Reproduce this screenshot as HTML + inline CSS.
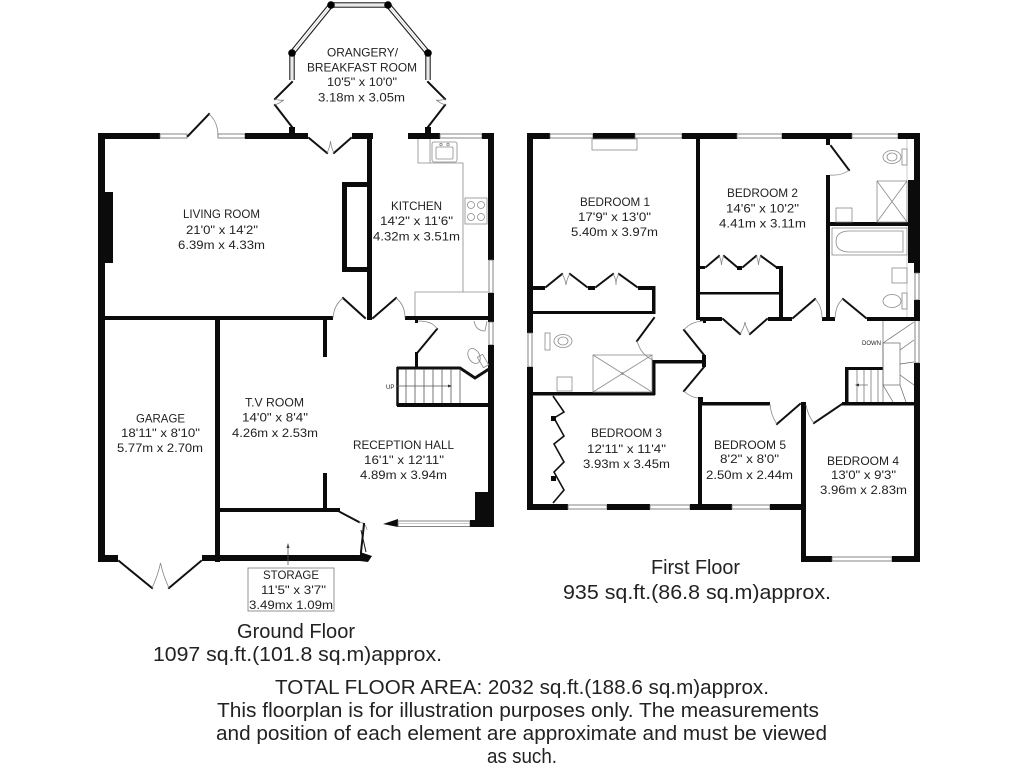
<!DOCTYPE html>
<html><head><meta charset="utf-8">
<style>
html,body{margin:0;padding:0;background:#fff;}
svg{display:block;}
text{font-family:"Liberation Sans",Arial,sans-serif;fill:#222;}
.w{fill:#0b0b0b;}
.win{fill:#fff;stroke:#666;stroke-width:0.8;}
.d{stroke:#111;stroke-width:2;fill:none;stroke-linecap:square;}
.a{stroke:#888;stroke-width:0.8;fill:none;}
.f{stroke:#8a8a8a;stroke-width:0.8;fill:none;}
.r{font-size:12px;}
.b{font-size:20.5px;}
</style></head><body>
<svg width="1024" height="768" viewBox="0 0 1024 768" xmlns="http://www.w3.org/2000/svg">
<rect width="1024" height="768" fill="#fff"/>

<!-- ================= GROUND FLOOR ================= -->
<!-- Orangery glazing -->
<polyline points="292,80 292,53 331,5 388,5 428,53 428,80" fill="none" stroke="#222" stroke-width="5.5" stroke-linejoin="miter"/>
<polyline points="292,80 292,53 331,5 388,5 428,53 428,80" fill="none" stroke="#fff" stroke-width="3.2" stroke-linejoin="miter"/>
<polyline points="292,80 292,53 331,5 388,5 428,53 428,80" fill="none" stroke="#aaa" stroke-width="0.5"/>
<circle cx="331" cy="5" r="3.8" fill="#000"/>
<circle cx="388" cy="5" r="3.8" fill="#000"/>
<circle cx="292" cy="53" r="3.8" fill="#000"/>
<circle cx="428" cy="53" r="3.8" fill="#000"/>
<!-- orangery side doors -->
<line class="d" x1="292" y1="82" x2="275" y2="99"/>
<line class="d" x1="275" y1="105" x2="292" y2="127"/>
<path class="a" d="M275,99 Q280,101 284,100 M275,105 Q280,103 284,100"/>
<line class="d" x1="428" y1="82" x2="445" y2="99"/>
<line class="d" x1="445" y1="105" x2="428" y2="127"/>
<path class="a" d="M445,99 Q440,101 436,100 M445,105 Q440,103 436,100"/>
<rect class="w" x="289" y="127" width="6" height="12"/>
<rect class="w" x="425" y="127" width="6" height="12"/>

<!-- top wall living/kitchen -->
<rect class="w" x="98" y="133" width="62" height="6"/>
<rect class="win" x="160" y="134" width="27" height="4"/>
<line class="d" x1="188" y1="136" x2="209" y2="114"/>
<path class="a" d="M209,114 Q218,122 218,136"/>
<rect class="win" x="218" y="134" width="27" height="4"/>
<rect class="w" x="245" y="133" width="63" height="6"/>
<line class="d" x1="309" y1="138" x2="327" y2="153"/>
<line class="d" x1="351" y1="138" x2="334" y2="153"/>
<path class="a" d="M327,153 Q330,147 330.5,141 M334,153 Q331,147 330.5,141"/>
<rect class="w" x="352" y="133" width="21" height="6"/>
<rect class="w" x="408" y="133" width="32" height="6"/>
<rect class="win" x="440" y="134" width="42" height="4"/>
<rect class="w" x="482" y="133" width="12" height="6"/>

<!-- left wall -->
<rect class="w" x="98" y="133" width="7" height="429"/>
<rect class="w" x="105" y="192" width="8" height="71"/>
<!-- living/kitchen wall and chimney -->
<rect class="w" x="367" y="133" width="5" height="187"/>
<rect class="w" x="342" y="182" width="26" height="5"/>
<rect class="w" x="342" y="182" width="5" height="90"/>
<rect class="w" x="342" y="267" width="26" height="5"/>
<!-- right wall -->
<rect class="w" x="488" y="133" width="6" height="127"/>
<rect class="win" x="489" y="260" width="4" height="33"/>
<rect class="w" x="488" y="293" width="6" height="29"/>
<rect class="win" x="489" y="322" width="4" height="23"/>
<rect class="w" x="488" y="345" width="6" height="182"/>

<!-- kitchen fittings -->
<path class="f" d="M418,139 V163 H463 V292 M415,320 V292 H488 M430,139 V163"/>
<rect class="f" x="432" y="142" width="25" height="20" rx="2"/>
<rect class="f" x="436" y="147" width="17" height="12" rx="1"/>
<circle class="f" cx="441" cy="144.5" r="1.2"/><circle class="f" cx="448" cy="144.5" r="1.2"/>
<rect class="f" x="465" y="198" width="22" height="26"/>
<circle class="f" cx="471" cy="205" r="3.5"/><circle class="f" cx="481" cy="205" r="3.5"/>
<circle class="f" cx="471" cy="217" r="3.5"/><circle class="f" cx="481" cy="217" r="3.5"/>

<!-- mid walls -->
<rect class="w" x="405" y="316" width="89" height="4"/>
<rect class="w" x="98" y="316" width="235" height="4"/>
<line class="d" x1="365" y1="318" x2="343" y2="298"/>
<line class="d" x1="373" y1="318" x2="396" y2="298"/>
<path class="a" d="M343,298 Q334,305 333,318 M396,298 Q405,305 405,318"/>

<!-- garage -->
<rect class="w" x="215" y="320" width="5" height="242"/>
<rect class="w" x="98" y="555" width="20" height="7"/>
<rect class="w" x="202" y="555" width="166" height="6"/>
<polygon class="w" points="360,552 372,556 368,562 360,561"/>
<line class="d" x1="119" y1="561" x2="152" y2="588"/>
<line class="d" x1="201" y1="561" x2="169" y2="588"/>
<path class="a" d="M152,588 Q158,575 160.5,563 M169,588 Q163,575 160.5,563"/>

<!-- TV room / storage -->
<rect class="w" x="323" y="320" width="4" height="37"/>
<rect class="w" x="323" y="473" width="4" height="38"/>
<rect class="w" x="220" y="508" width="120" height="4"/>
<line class="d" x1="340" y1="512" x2="359" y2="522"/>
<path class="a" d="M359,522 Q366,523 367,530"/>
<line class="d" x1="364" y1="524" x2="361" y2="552"/>
<line x1="361" y1="530" x2="366" y2="552" stroke="#111" stroke-width="1"/>

<!-- hall bottom -->
<polygon class="w" points="383,524 398,519 398,527"/>
<rect class="win" x="398" y="521" width="72" height="5.5"/>
<line x1="398" y1="523.7" x2="470" y2="523.7" stroke="#999" stroke-width="0.5"/>
<rect class="w" x="470" y="520" width="24" height="7"/>
<rect class="w" x="475" y="492" width="19" height="35"/>

<!-- WC and stairs -->
<rect class="w" x="415" y="320" width="3" height="3"/>
<line class="d" x1="437" y1="329" x2="418" y2="352"/>
<path class="a" d="M418,321 Q433,321 437,329"/>
<rect class="w" x="415" y="352" width="3" height="16"/>
<polyline points="397,368 460,368 475,378 489,369" fill="none" stroke="#111" stroke-width="3"/>
<line x1="397.5" y1="367" x2="397.5" y2="406" stroke="#111" stroke-width="2.5"/>
<rect class="w" x="397" y="403" width="97" height="4"/>
<g stroke="#555" stroke-width="0.8">
<line x1="406" y1="369" x2="406" y2="403"/><line x1="415" y1="369" x2="415" y2="403"/>
<line x1="424" y1="369" x2="424" y2="403"/><line x1="433" y1="369" x2="433" y2="403"/>
<line x1="442" y1="369" x2="442" y2="403"/><line x1="451" y1="369" x2="451" y2="403"/>
<line x1="460" y1="369" x2="460" y2="403"/>
<line x1="397" y1="386" x2="448" y2="386"/>
</g>
<polygon points="448,384.5 452,386 448,387.5" fill="#333"/>
<text x="386" y="389" style="font-size:6px">UP</text>
<path class="f" d="M474,321 Q476,331 485,331 L487,321"/>
<ellipse class="f" cx="474" cy="356" rx="5.5" ry="8" transform="rotate(-30 474 356)"/>
<rect class="f" x="480" y="355" width="6" height="12" transform="rotate(-30 483 361)"/>

<!-- storage label -->
<rect x="248" y="568" width="86" height="43" fill="none" stroke="#888" stroke-width="0.9"/>
<line x1="288" y1="565" x2="288" y2="546" stroke="#555" stroke-width="0.8"/>
<polygon points="286.5,548 288,543 289.5,548" fill="#444"/>

<!-- ground floor labels -->
<g class="r">
<text x="327" y="56.5" textLength="71" lengthAdjust="spacingAndGlyphs">ORANGERY/</text>
<text x="307" y="71.5" textLength="110" lengthAdjust="spacingAndGlyphs">BREAKFAST ROOM</text>
<text x="327" y="86" textLength="70" lengthAdjust="spacingAndGlyphs">10'5" x 10'0"</text>
<text x="318" y="101.5" textLength="87" lengthAdjust="spacingAndGlyphs">3.18m x 3.05m</text>
<text x="183" y="218" textLength="77" lengthAdjust="spacingAndGlyphs">LIVING ROOM</text>
<text x="186" y="234" textLength="72" lengthAdjust="spacingAndGlyphs">21'0" x 14'2"</text>
<text x="178" y="249" textLength="87" lengthAdjust="spacingAndGlyphs">6.39m x 4.33m</text>
<text x="391" y="210" textLength="51" lengthAdjust="spacingAndGlyphs">KITCHEN</text>
<text x="380" y="225" textLength="73" lengthAdjust="spacingAndGlyphs">14'2" x 11'6"</text>
<text x="373" y="240.5" textLength="87" lengthAdjust="spacingAndGlyphs">4.32m x 3.51m</text>
<text x="136" y="422.5" textLength="49" lengthAdjust="spacingAndGlyphs">GARAGE</text>
<text x="121" y="437" textLength="79" lengthAdjust="spacingAndGlyphs">18'11" x 8'10"</text>
<text x="117" y="452" textLength="86" lengthAdjust="spacingAndGlyphs">5.77m x 2.70m</text>
<text x="245" y="406.5" textLength="59" lengthAdjust="spacingAndGlyphs">T.V ROOM</text>
<text x="242" y="421.5" textLength="66" lengthAdjust="spacingAndGlyphs">14'0" x 8'4"</text>
<text x="232" y="437" textLength="86" lengthAdjust="spacingAndGlyphs">4.26m x 2.53m</text>
<text x="353" y="449" textLength="101" lengthAdjust="spacingAndGlyphs">RECEPTION HALL</text>
<text x="364" y="464" textLength="80" lengthAdjust="spacingAndGlyphs">16'1" x 12'11"</text>
<text x="360" y="479" textLength="87" lengthAdjust="spacingAndGlyphs">4.89m x 3.94m</text>
<text x="263" y="579" textLength="56" lengthAdjust="spacingAndGlyphs">STORAGE</text>
<text x="261" y="594" textLength="65" lengthAdjust="spacingAndGlyphs">11'5" x 3'7"</text>
<text x="249" y="609" textLength="84" lengthAdjust="spacingAndGlyphs">3.49mx 1.09m</text>
</g>

<!-- ================= FIRST FLOOR ================= -->
<!-- top wall -->
<rect class="w" x="527" y="133" width="23" height="6"/>
<rect class="win" x="550" y="134" width="43" height="4"/>
<rect class="w" x="593" y="133" width="42" height="6"/>
<rect class="win" x="635" y="134" width="47" height="4"/>
<rect class="w" x="682" y="133" width="55" height="6"/>
<rect class="win" x="737" y="134" width="45" height="4"/>
<rect class="w" x="782" y="133" width="70" height="6"/>
<rect class="win" x="852" y="134" width="46" height="4"/>
<rect class="w" x="898" y="133" width="22" height="6"/>
<rect class="f" x="592" y="139" width="45" height="11"/>
<!-- left wall -->
<rect class="w" x="527" y="133" width="6" height="200"/>
<rect class="win" x="528" y="333" width="4" height="34"/>
<rect class="w" x="527" y="367" width="6" height="143"/>
<!-- bottom wall bed3/bed5 -->
<rect class="w" x="527" y="504" width="41" height="6"/>
<rect class="win" x="568" y="505" width="39" height="4"/>
<rect class="w" x="607" y="504" width="43" height="6"/>
<rect class="win" x="650" y="505" width="40" height="4"/>
<rect class="w" x="690" y="504" width="42" height="6"/>
<rect class="win" x="732" y="505" width="38" height="4"/>
<rect class="w" x="770" y="504" width="36" height="6"/>
<!-- bed4 -->
<rect class="w" x="801" y="402" width="5" height="160"/>
<rect class="w" x="801" y="556" width="31" height="6"/>
<rect class="win" x="832" y="557" width="60" height="4"/>
<rect class="w" x="892" y="556" width="28" height="6"/>
<!-- right wall -->
<rect class="w" x="914" y="133" width="6" height="140"/>
<rect class="win" x="915" y="273" width="4" height="27"/>
<rect class="w" x="914" y="300" width="6" height="20"/>
<rect class="win" x="915" y="320" width="4" height="43"/>
<rect class="w" x="914" y="363" width="6" height="199"/>
<rect class="w" x="908" y="180" width="12" height="83"/>
<line x1="907" y1="139" x2="907" y2="318" stroke="#aaa" stroke-width="0.6"/>

<!-- bed1/bed2 wall -->
<rect class="w" x="696" y="133" width="4" height="187"/>
<!-- bed2/bath wall -->
<rect class="w" x="826" y="133" width="4" height="12"/>
<line class="d" x1="831" y1="146" x2="849" y2="170"/>
<path class="a" d="M849,170 Q842,176 830,175"/>
<rect class="w" x="826" y="175" width="4" height="146"/>
<rect class="w" x="830" y="222" width="78" height="4"/>
<rect class="w" x="826" y="317" width="9" height="4"/>
<rect class="w" x="867" y="317" width="53" height="4"/>
<line class="d" x1="866" y1="318" x2="843" y2="299"/>
<path class="a" d="M843,299 Q836,304 835,318"/>
<!-- landing top -->
<rect class="w" x="700" y="317" width="22" height="4"/>
<rect class="w" x="768" y="317" width="24" height="4"/>
<rect class="w" x="822" y="317" width="8" height="4"/>
<line class="d" x1="723" y1="319" x2="740" y2="334"/>
<line class="d" x1="767" y1="319" x2="750" y2="334"/>
<path class="a" d="M740,334 Q744,328 745,322 M750,334 Q746,328 745,322"/>
<line class="d" x1="793" y1="318" x2="815" y2="299"/>
<path class="a" d="M815,299 Q822,306 822,318"/>
<!-- bed2 cupboard -->
<rect class="w" x="779" y="267" width="4" height="53"/>
<rect class="w" x="700" y="292" width="83" height="2.5"/>
<rect class="w" x="700" y="266" width="5" height="3"/>
<line class="d" x1="706" y1="267" x2="719" y2="256"/>
<line class="d" x1="737" y1="267" x2="724" y2="256"/>
<path class="a" d="M719,256 Q721,259 721.5,265 M724,256 Q722,259 721.5,265"/>
<rect class="w" x="737" y="266" width="5" height="4"/>
<line class="d" x1="743" y1="267" x2="756" y2="256"/>
<line class="d" x1="776" y1="267" x2="761" y2="256"/>
<path class="a" d="M756,256 Q758,259 758.5,265 M761,256 Q759,259 758.5,265"/>
<rect class="w" x="776" y="266" width="7" height="3"/>
<!-- bed1 wardrobe -->
<rect class="w" x="533" y="286" width="12" height="4"/>
<line class="d" x1="546" y1="287" x2="562" y2="274"/>
<line class="d" x1="587" y1="287" x2="570" y2="274"/>
<path class="a" d="M562,274 Q565,278 566,285 M570,274 Q567,278 566,285"/>
<rect class="w" x="588" y="286" width="7" height="4"/>
<line class="d" x1="596" y1="287" x2="613" y2="274"/>
<line class="d" x1="637" y1="287" x2="619" y2="274"/>
<path class="a" d="M613,274 Q616,278 616,285 M619,274 Q616,278 616,285"/>
<rect class="w" x="638" y="286" width="17" height="4"/>
<rect class="w" x="652" y="286" width="3.5" height="28"/>
<rect class="w" x="533" y="311" width="122" height="3"/>
<!-- bed1 ensuite -->
<line class="d" x1="654" y1="318" x2="637" y2="341"/>
<path class="a" d="M637,341 Q641,355 653,360"/>
<rect class="w" x="652" y="360" width="3.5" height="35"/>
<rect class="w" x="653" y="360" width="50" height="3.5"/>
<rect class="w" x="527" y="392" width="128" height="3.5"/>
<ellipse class="f" cx="563" cy="341" rx="9" ry="6.5"/>
<ellipse class="f" cx="563" cy="341" rx="5" ry="4"/>
<rect class="f" x="545" y="333" width="5" height="17"/>
<rect class="f" x="593" y="355" width="59" height="37"/>
<path class="f" d="M593,355 L652,392 M652,355 L593,392"/>
<circle cx="622.5" cy="373.5" r="1.3" fill="#888"/>
<rect class="f" x="557" y="377" width="15" height="14"/>
<!-- landing west wall -->
<rect class="w" x="703" y="317" width="3" height="6"/>
<line class="d" x1="704" y1="355" x2="684" y2="330"/>
<path class="a" d="M684,330 Q690,322 703,321"/>
<rect class="w" x="702" y="355" width="4" height="12"/>
<line class="d" x1="704" y1="367" x2="684" y2="391"/>
<path class="a" d="M684,391 Q692,399 703,398"/>
<rect class="w" x="698" y="397" width="5" height="8"/>
<!-- bed3 -->
<rect class="w" x="698" y="402" width="4" height="108"/>
<polyline points="553,396 564,412 554,418 564,436 554,444 564,462 554,472 564,490 553,503" fill="none" stroke="#111" stroke-width="1.6"/>
<rect class="w" x="551" y="416" width="5" height="5"/>
<rect class="w" x="551" y="476" width="5" height="5"/>
<!-- landing bottom -->
<rect class="w" x="698" y="402" width="72" height="3.5"/>
<line class="d" x1="800" y1="404" x2="777" y2="424"/>
<path class="a" d="M777,424 Q771,416 770,404"/>
<line class="d" x1="842" y1="404" x2="814" y2="423"/>
<path class="a" d="M814,423 Q808,416 806,405"/>
<rect class="w" x="842" y="402" width="78" height="3.5"/>
<!-- stairs -->
<rect class="w" x="845" y="367" width="3.5" height="38"/>
<rect class="w" x="845" y="367" width="38" height="3"/>
<g stroke="#666" stroke-width="0.7" fill="none">
<line x1="857" y1="370" x2="857" y2="402"/><line x1="864" y1="370" x2="864" y2="402"/>
<line x1="871" y1="370" x2="871" y2="402"/><line x1="878" y1="370" x2="878" y2="402"/>
<line x1="883" y1="321" x2="883" y2="402"/>
<rect x="883" y="343" width="17" height="42"/>
<line x1="883" y1="343" x2="914" y2="322"/>
<line x1="900" y1="350" x2="914" y2="340"/>
<line x1="900" y1="364" x2="914" y2="362"/>
<line x1="900" y1="375" x2="914" y2="385"/>
<line x1="883" y1="385" x2="893" y2="402"/>
<line x1="900" y1="385" x2="906" y2="402"/>
<line x1="857" y1="385" x2="868" y2="385"/>
</g>
<polygon points="859,383.5 855,385 859,386.5" fill="#333"/>
<text x="862" y="345" style="font-size:6px">DOWN</text>
<!-- bathroom fixtures -->
<ellipse class="f" cx="892" cy="157" rx="9" ry="6.5"/>
<ellipse class="f" cx="892" cy="157" rx="5" ry="4"/>
<rect class="f" x="902" y="149" width="5" height="16"/>
<rect class="f" x="877" y="181" width="30" height="41"/>
<path class="f" d="M877,181 L907,222 M907,181 L877,222"/>
<rect class="f" x="836" y="208" width="16" height="14"/>
<rect class="f" x="832" y="228" width="75" height="27"/>
<path class="f" d="M850,231 H903 V252 H850 Q836,252 836,241.5 Q836,231 850,231 Z"/>
<rect class="f" x="892" y="268" width="15" height="15"/>
<ellipse class="f" cx="892" cy="301" rx="9" ry="6.5"/>
<rect class="f" x="902" y="293" width="5" height="16"/>

<!-- first floor labels -->
<g class="r">
<text x="580" y="206" textLength="70" lengthAdjust="spacingAndGlyphs">BEDROOM 1</text>
<text x="578" y="221" textLength="73" lengthAdjust="spacingAndGlyphs">17'9" x 13'0"</text>
<text x="571" y="236" textLength="87" lengthAdjust="spacingAndGlyphs">5.40m x 3.97m</text>
<text x="727" y="197" textLength="71" lengthAdjust="spacingAndGlyphs">BEDROOM 2</text>
<text x="726" y="212.5" textLength="73" lengthAdjust="spacingAndGlyphs">14'6" x 10'2"</text>
<text x="719" y="227.5" textLength="87" lengthAdjust="spacingAndGlyphs">4.41m x 3.11m</text>
<text x="591" y="437" textLength="71" lengthAdjust="spacingAndGlyphs">BEDROOM 3</text>
<text x="587" y="453" textLength="79" lengthAdjust="spacingAndGlyphs">12'11" x 11'4"</text>
<text x="583" y="468" textLength="87" lengthAdjust="spacingAndGlyphs">3.93m x 3.45m</text>
<text x="714" y="449" textLength="72" lengthAdjust="spacingAndGlyphs">BEDROOM 5</text>
<text x="720" y="463" textLength="59" lengthAdjust="spacingAndGlyphs">8'2" x 8'0"</text>
<text x="706" y="479" textLength="87" lengthAdjust="spacingAndGlyphs">2.50m x 2.44m</text>
<text x="827" y="465" textLength="72" lengthAdjust="spacingAndGlyphs">BEDROOM 4</text>
<text x="831" y="479" textLength="65" lengthAdjust="spacingAndGlyphs">13'0" x 9'3"</text>
<text x="820" y="494" textLength="87" lengthAdjust="spacingAndGlyphs">3.96m x 2.83m</text>
</g>

<!-- big captions -->
<g class="b">
<text x="237" y="638" textLength="118" lengthAdjust="spacingAndGlyphs">Ground Floor</text>
<text x="153" y="661" textLength="289" lengthAdjust="spacingAndGlyphs">1097 sq.ft.(101.8 sq.m)approx.</text>
<text x="651" y="574" textLength="89" lengthAdjust="spacingAndGlyphs">First Floor</text>
<text x="563" y="599" textLength="268" lengthAdjust="spacingAndGlyphs">935 sq.ft.(86.8 sq.m)approx.</text>
<text x="275" y="694" textLength="494" lengthAdjust="spacingAndGlyphs">TOTAL FLOOR AREA: 2032 sq.ft.(188.6 sq.m)approx.</text>
<text x="217" y="717" textLength="602" lengthAdjust="spacingAndGlyphs">This floorplan is for illustration purposes only. The measurements</text>
<text x="216" y="740" textLength="611" lengthAdjust="spacingAndGlyphs">and position of each element are approximate and must be viewed</text>
<text x="487" y="763" textLength="70" lengthAdjust="spacingAndGlyphs">as such.</text>
</g>
</svg>
</body></html>
